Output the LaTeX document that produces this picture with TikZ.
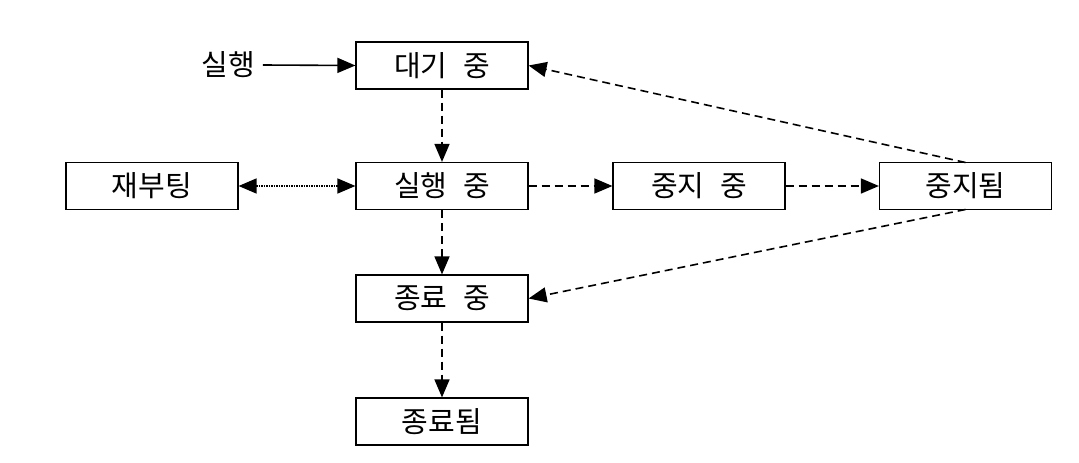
\documentclass[tikz,border=0pt]{standalone}
\usepackage{fontspec}
\newfontfamily\kr[WordSpace=2.4]{Noto Sans CJK KR}
\usetikzlibrary{arrows.meta}
\tikzset{
  box/.style={draw, line width=1.2pt, minimum width=172pt, minimum height=47pt, inner sep=0pt, font=\kr\fontsize{29}{34}\selectfont},
  lbl/.style={inner sep=0pt, font=\kr\fontsize{29}{34}\selectfont},
  arr/.style={line width=1.6pt, -{Triangle[length=18pt,width=15pt]}},
  dsh/.style={arr, dash pattern=on 8pt off 5pt},
  dtd/.style={line width=1.6pt, {Triangle[length=18pt,width=15pt]}-{Triangle[length=18pt,width=15pt]}, dash pattern=on 1.5pt off 1pt}
}
\begin{document}
\begin{tikzpicture}[x=1pt,y=-1pt]
\useasboundingbox (0,0) rectangle (1079,463);
\node[box] (wait) at (442,65.5) {대기 중};
\node[box] (reboot) at (152,186) {재부팅};
\node[box] (run) at (442,186) {실행 중};
\node[box] (stopping) at (699,186) {중지 중};
\node[box] (stopped) at (965.5,186) {중지됨};
\node[box] (ending) at (442,298.5) {종료 중};
\node[box] (ended) at (442,421.5) {종료됨};
\node[lbl] (exec) at (228,65) {실행};
\coordinate (st) at (965.5,162.5);
\coordinate (sb) at (965.5,209.5);
\draw[arr] (exec.east) ++(8,0) coordinate (e0) -- (wait.west);
\draw[dsh] (wait) -- (run);
\draw[dsh] (run) -- (ending);
\draw[dsh] (ending) -- (ended);
\draw[dsh] (run) -- (stopping);
\draw[dsh] (stopping) -- (stopped);
\draw[dtd] (reboot) -- (run);
\draw[dsh] (st) -- (wait.east);
\draw[dsh] (sb) -- (ending.east);
\end{tikzpicture}
\end{document}
